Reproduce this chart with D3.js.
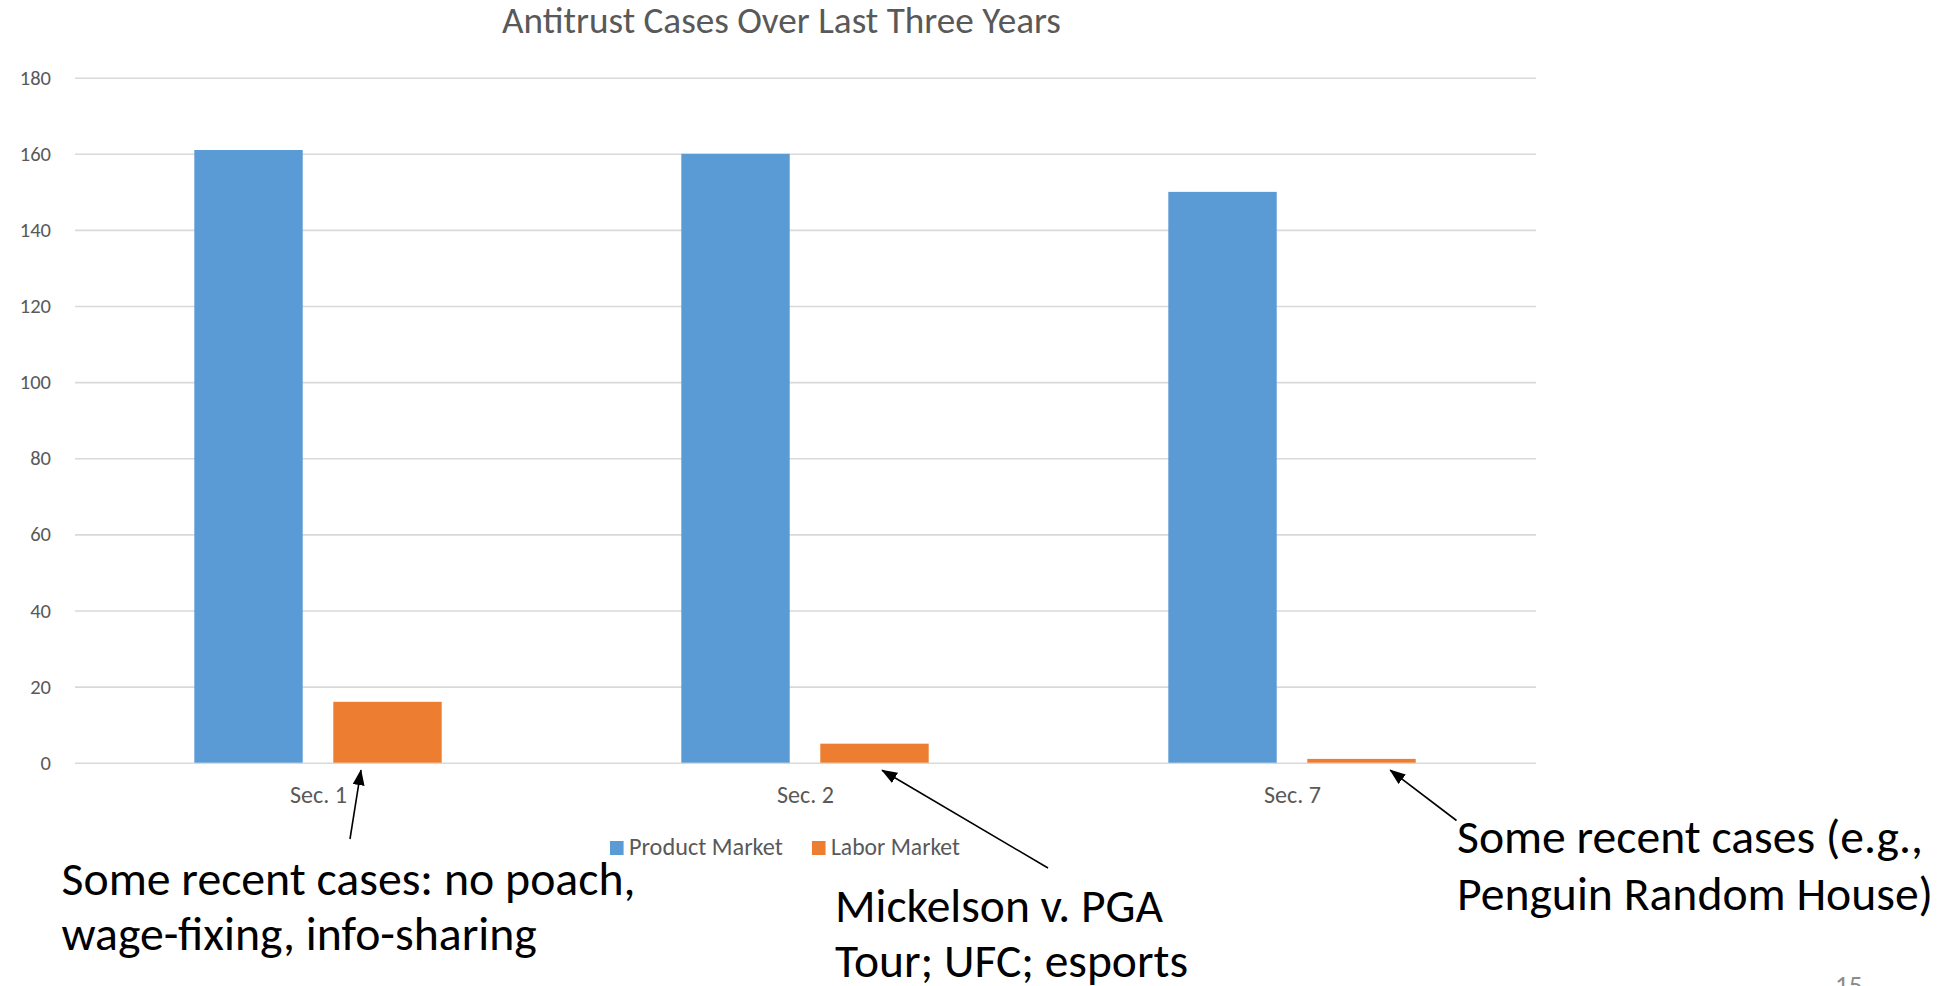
<!DOCTYPE html>
<html>
<head>
<meta charset="utf-8">
<script src="https://cdn.jsdelivr.net/npm/d3@7"></script>
<style>
  html, body { margin: 0; padding: 0; background: #ffffff; }
  svg { display: block; }
</style>
</head>
<body>
<svg id="chart" width="1960" height="986"></svg>
<script>
// ---- data ----
const categories = ["Sec. 1", "Sec. 2", "Sec. 7"];
const seriesNames = ["Product Market", "Labor Market"];
const productMarket = [161, 160, 150];
const laborMarket = [16, 5, 1];
const yTicks = [0, 20, 40, 60, 80, 100, 120, 140, 160, 180];
const seriesColors = ["#5B9BD5", "#ED7D31"];
const chartTitle = "Antitrust Cases Over Last Three Years";

// callouts: text lines and the category whose labor bar they point at
const noteSec1 = ["Some recent cases: no poach,", "wage-fixing, info-sharing"];
const noteSec2 = ["Mickelson v. PGA", "Tour; UFC; esports"];
const noteSec7 = ["Some recent cases (e.g.,", "Penguin Random House)"];
const pageNumber = "15";

// ---- layout ----
const W = 1960, H = 986;
const plot = { left: 75, right: 1536, top: 77.7, bottom: 762.7 };
const FONT = "Carlito, Calibri, Lato, 'Open Sans', sans-serif";
const GREY = "#595959";

const svg = d3.select("#chart");
svg.append("rect").attr("width", W).attr("height", H).attr("fill", "#fff");

const y = d3.scaleLinear().domain([0, 180]).range([plot.bottom, plot.top]);
const x0 = d3.scaleBand().domain(categories).range([plot.left, plot.right]).padding(0);
const bw = x0.bandwidth();
const x1 = d3.scaleBand().domain(seriesNames)
  .range([bw * 0.245, bw * 0.753]).paddingInner(0.22);

// shrink/grow a text element so it spans the given width
function fitWidth(sel, target) {
  const w = sel.node().getComputedTextLength();
  const fs = parseFloat(sel.attr("font-size"));
  sel.attr("font-size", fs * target / w);
  return fs * target / w;
}

// ---- gridlines ----
const grid = svg.append("g")
  .attr("transform", `translate(${plot.left},0)`)
  .call(d3.axisLeft(y).tickValues(yTicks).tickSize(-(plot.right - plot.left)).tickFormat(""));
grid.select(".domain").remove();
grid.selectAll("line").attr("stroke", "#d9d9d9").attr("stroke-width", 1.6);

// ---- y labels ----
const yAxis = svg.append("g")
  .attr("transform", `translate(${plot.left},0)`)
  .call(d3.axisLeft(y).tickValues(yTicks).tickSize(0).tickPadding(24));
yAxis.select(".domain").remove();
yAxis.selectAll("text")
  .attr("font-family", FONT).attr("font-size", 20.5).attr("fill", GREY);
yAxis.attr("font-family", null).attr("font-size", null);

// ---- bars ----
const rows = categories.map((c, i) => ({
  cat: c,
  values: [
    { key: seriesNames[0], value: productMarket[i] },
    { key: seriesNames[1], value: laborMarket[i] }
  ]
}));
const color = d3.scaleOrdinal().domain(seriesNames).range(seriesColors);

const groups = svg.append("g").selectAll("g").data(rows).join("g")
  .attr("transform", d => `translate(${x0(d.cat)},0)`);
groups.selectAll("rect").data(d => d.values).join("rect")
  .attr("x", d => x1(d.key))
  .attr("width", x1.bandwidth())
  .attr("y", d => y(d.value))
  .attr("height", d => y(0) - y(d.value))
  .attr("fill", d => color(d.key));

// ---- x labels ----
const xAxis = svg.append("g")
  .attr("transform", `translate(0,${plot.bottom})`)
  .call(d3.axisBottom(x0).tickSize(0));
xAxis.select(".domain").remove();
xAxis.selectAll("text")
  .attr("y", 40).attr("dy", 0)
  .attr("font-family", FONT).attr("font-size", 21).attr("fill", GREY)
  .each(function () { fitWidth(d3.select(this), 57); });
xAxis.attr("font-family", null).attr("font-size", null);

// ---- title ----
const title = svg.append("text")
  .attr("x", 781.5).attr("y", 33).attr("text-anchor", "middle")
  .attr("font-family", FONT).attr("font-size", 32).attr("fill", GREY)
  .text(chartTitle);
fitWidth(title, 559);

// ---- legend ----
const legend = svg.append("g");
let lx = 610;
seriesNames.forEach((name, i) => {
  legend.append("rect")
    .attr("x", lx).attr("y", 841).attr("width", 13.6).attr("height", 14)
    .attr("fill", seriesColors[i]);
  const t = legend.append("text")
    .attr("x", lx + 19).attr("y", 855)
    .attr("font-family", FONT).attr("font-size", 21).attr("fill", GREY)
    .text(name);
  const fs = fitWidth(t, i === 0 ? 154 : 129);
  lx = lx + 19 + t.node().getComputedTextLength() + 29;
});

// ---- callouts ----
const defs = svg.append("defs");
defs.append("marker")
  .attr("id", "head").attr("markerUnits", "userSpaceOnUse")
  .attr("viewBox", "0 0 16 12").attr("markerWidth", 16).attr("markerHeight", 12)
  .attr("refX", 15).attr("refY", 6).attr("orient", "auto")
  .append("path").attr("d", "M0,0 L16,6 L0,12 Z").attr("fill", "#000");

function laborTip(i, frac) {
  return [x0(categories[i]) + x1(seriesNames[1]) + x1.bandwidth() * frac, y(0) + 7.5];
}
const arrows = [
  { from: [350, 839], to: laborTip(0, 0.255) },
  { from: [1048, 868], to: laborTip(1, 0.57) },
  { from: [1456.5, 820.5], to: laborTip(2, 0.765) }
];
svg.append("g").selectAll("line").data(arrows).join("line")
  .attr("x1", d => d.from[0]).attr("y1", d => d.from[1])
  .attr("x2", d => d.to[0]).attr("y2", d => d.to[1])
  .attr("stroke", "#000").attr("stroke-width", 1.6)
  .attr("marker-end", "url(#head)");

const notes = [
  { lines: noteSec1, x: 61.5, y: [895, 950], width: 574 },
  { lines: noteSec2, x: 835, y: [922, 977], width: 328 },
  { lines: noteSec7, x: 1457, y: [853, 910], width: 466 }
];
notes.forEach(n => {
  const t0 = svg.append("text")
    .attr("x", n.x).attr("y", n.y[0])
    .attr("font-family", FONT).attr("font-size", 44).attr("fill", "#000")
    .text(n.lines[0]);
  const fs = fitWidth(t0, n.width);
  svg.append("text")
    .attr("x", n.x).attr("y", n.y[1])
    .attr("font-family", FONT).attr("font-size", fs).attr("fill", "#000")
    .text(n.lines[1]);
});

// slide number
svg.append("text")
  .attr("x", 1835).attr("y", 994)
  .attr("font-family", FONT).attr("font-size", 27).attr("fill", "#8c8c8c")
  .text(pageNumber);
</script>
</body>
</html>
